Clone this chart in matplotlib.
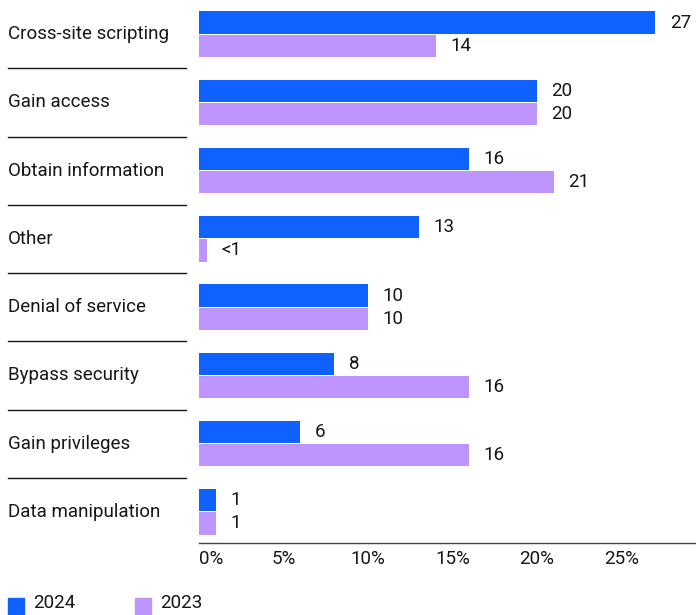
import numpy as np
import matplotlib
matplotlib.use("Agg")
import matplotlib.pyplot as plt
from matplotlib.transforms import blended_transform_factory

categories = ["Cross-site scripting", "Gain access", "Obtain information", "Other",
              "Denial of service", "Bypass security", "Gain privileges", "Data manipulation"]
vals_2024 = [27, 20, 16, 13, 10, 8, 6, 1]
vals_2023 = [14, 20, 21, 0.5, 10, 16, 16, 1]
labels_2024 = ["27", "20", "16", "13", "10", "8", "6", "1"]
labels_2023 = ["14", "20", "21", "<1", "10", "16", "16", "1"]
ticks = [0, 5, 10, 15, 20, 25]

BLUE = "#0f62fe"
PURPLE = "#be95ff"
INK = "#161616"
FS = 13.5

plt.rcParams["font.family"] = ["Roboto", "DejaVu Sans"]

W, H = 696, 615
fig = plt.figure(figsize=(W / 100, H / 100), dpi=100)
ax = fig.add_axes([199 / W, (H - 543) / H, (W - 199) / W, 543 / H])
margin = blended_transform_factory(fig.transFigure, ax.transData)

y = np.arange(len(categories))
bh = 0.324
off = 0.17
ax.barh(y - off, vals_2024, height=bh, color=BLUE)
ax.barh(y + off, vals_2023, height=bh, color=PURPLE)

for i in range(len(categories)):
    ax.text(vals_2024[i] + 0.85, y[i] - off, labels_2024[i], va="center", ha="left",
            fontsize=FS, color=INK)
    ax.text(vals_2023[i] + 0.85, y[i] + off, labels_2023[i], va="center", ha="left",
            fontsize=FS, color=INK)
    # category name in the left margin
    ax.text(8 / W, y[i], categories[i], transform=margin,
            va="center", ha="left", fontsize=FS, color=INK)

# separators between category names
for i in range(len(categories) - 1):
    ax.plot([8 / W, 186 / W], [y[i] + 0.5, y[i] + 0.5], transform=margin,
            color=INK, lw=1, clip_on=False)

ax.set_xlim(0, 497 / 16.9)
ax.set_ylim(7.456, -0.5)
ax.set_yticks([])
ax.set_xticks(ticks)
ax.set_xticklabels([f"{t}%" for t in ticks], fontsize=FS, color=INK)
ax.tick_params(axis="x", length=0, pad=5)
ax.get_xticklabels()[0].set_ha("left")
for s in ["top", "right", "left"]:
    ax.spines[s].set_visible(False)
ax.spines["bottom"].set_color("#444444")
ax.spines["bottom"].set_linewidth(1)

# legend along the bottom edge
for x0, col, lab in [(8, BLUE, "2024"), (135, PURPLE, "2023")]:
    fig.add_artist(plt.Rectangle((x0 / W, 0), 16 / W, 17 / H, color=col,
                                 transform=fig.transFigure))
    fig.text((x0 + 25) / W, 3 / H, lab, va="bottom", ha="left", fontsize=FS, color=INK)

fig.savefig("out.png", dpi=100)
